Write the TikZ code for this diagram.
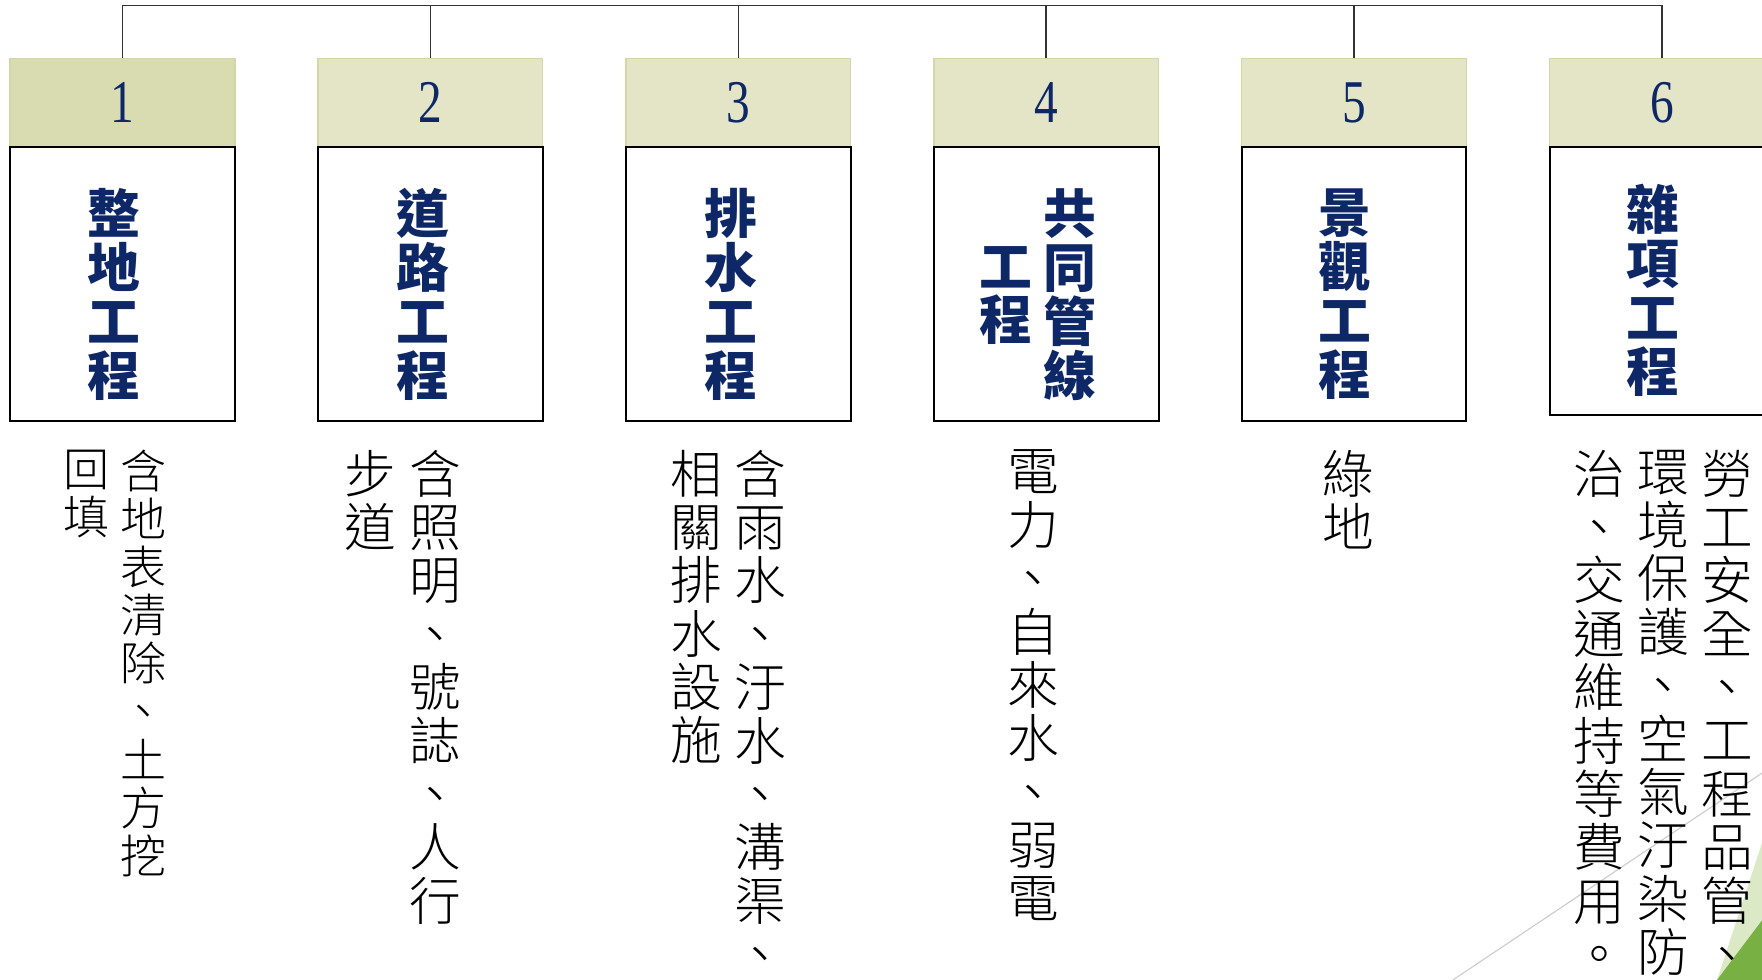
\documentclass[tikz,border=0pt]{standalone}
\usepackage{fontspec}
\setmainfont{Liberation Serif}
\newfontfamily\cjk{Noto Sans CJK TC}
\newfontfamily\cjklight{Noto Sans CJK TC Light}
\usetikzlibrary{calc}

\definecolor{navy}{HTML}{0E2767}
\definecolor{hdrA}{HTML}{D9DBB1}
\definecolor{hdrB}{HTML}{E4E5C7}
\definecolor{hdrline}{HTML}{D3D7A6}
\definecolor{leafA}{HTML}{DCE9C6}
\definecolor{leafB}{HTML}{78B043}

% one character per line, top to bottom
\makeatletter
\def\vend{\vend}
\def\vchars#1{\vfirst#1\vend}
\def\vfirst#1{#1\vnext}
\def\vnext#1{\ifx\vend#1\expandafter\@gobble\else\expandafter\@firstofone\fi{\\#1\vnext}}
\makeatother
\def\hnum#1{\scalebox{.78}[1]{#1}}

\begin{document}
\begin{tikzpicture}[x=0.5pt, y=-0.5pt,
	hdr/.style={draw=hdrline, line width=0.6pt, fill=hdrB, minimum width=100pt, minimum height=39.5pt, inner sep=0, text=navy, font=\fontsize{27}{27}\selectfont},
	body/.style={draw=black, line width=0.9pt, fill=white, minimum width=100pt, minimum height=122pt, inner sep=0},
	ttl/.style={align=center, inner sep=0, text=navy, font=\cjk\bfseries\fontsize{23.5}{24}\selectfont},
	desc/.style={align=center, anchor=north, inner sep=0, font=\cjklight\fontsize{23}{23.75}\selectfont},
	small/.style={font=\cjklight\fontsize{20.5}{21.4}\selectfont},
	bus/.style={draw=black!80, line width=0.7pt}]
			%%%%% START %%%%%
			\useasboundingbox (0,0) rectangle (1568,872);
			\clip (0,0) rectangle (1568,872);
			
			\fill[leafA] (1568,750) -- (1568,872) -- (1528,872) -- cycle;
			\fill[leafB] (1568,819) -- (1568,872) -- (1528,872) -- cycle;
			\draw[black!20, line width=0.5pt] (1293,872) -- (1568,688);
			
			\node[hdr, fill=hdrA] (h1) at (109,91.5) {\hnum{1}};
			\node[hdr] (h2) at (383,91.5) {\hnum{2}};
			\node[hdr] (h3) at (657,91.5) {\hnum{3}};
			\node[hdr] (h4) at (931,91.5) {\hnum{4}};
			\node[hdr] (h5) at (1205,91.5) {\hnum{5}};
			\node[hdr] (h6) at (1479,91.5) {\hnum{6}};
			
			\node[body] (b1) at (109,253) {};
			\node[body] (b2) at (383,253) {};
			\node[body] (b3) at (657,253) {};
			\node[body] (b4) at (931,253) {};
			\node[body] (b5) at (1205,253) {};
			\node[body, minimum height=119pt] (b6) at (1479,250) {};
			
			\coordinate (top) at (0,5);
			\draw[bus] (h1.north) -- (h1.north |- top) -- (h6.north |- top) -- (h6.north);
			\draw[bus] (h2.north) -- (h2.north |- top);
			\draw[bus] (h3.north) -- (h3.north |- top);
			\draw[bus] (h4.north) -- (h4.north |- top);
			\draw[bus] (h5.north) -- (h5.north |- top);
			
			\node[ttl] (t1) at (101,262) {\vchars{整地工程}};
			\node[ttl] (t2) at (376,262) {\vchars{道路工程}};
			\node[ttl] (t3) at (650,262) {\vchars{排水工程}};
			\node[ttl] (t4a) at (952,262) {\vchars{共同管線}};
			\node[ttl] (t4b) at (895,263) {\vchars{工程}};
			\node[ttl] (t5) at (1197,262) {\vchars{景觀工程}};
			\node[ttl] (t6) at (1471,258) {\vchars{雜項工程}};
			
			\node[desc, small] (d1a) at (128,400) {\vchars{含地表清除、土方挖}};
			\node[desc, small] (d1b) at (77,400) {\vchars{回填}};
			\node[desc] (d2a) at (387,400) {\vchars{含照明、號誌、人行}};
			\node[desc] (d2b) at (330,400) {\vchars{步道}};
			\node[desc] (d3a) at (677,400) {\vchars{含雨水、汙水、溝渠、}};
			\node[desc] (d3b) at (620,400) {\vchars{相關排水設施}};
			\node[desc] (d4) at (920,400) {\vchars{電力、自來水、弱電}};
			\node[desc] (d5) at (1200,400) {\vchars{綠地}};
			\node[desc] (d6a) at (1537,400) {\vchars{勞工安全、工程品管、}};
			\node[desc] (d6b) at (1480,400) {\vchars{環境保護、空氣汙染防}};
			\node[desc] (d6c) at (1423,400) {\vchars{治、交通維持等費用。}};
			%%%%% END %%%%%
\end{tikzpicture}
\end{document}
